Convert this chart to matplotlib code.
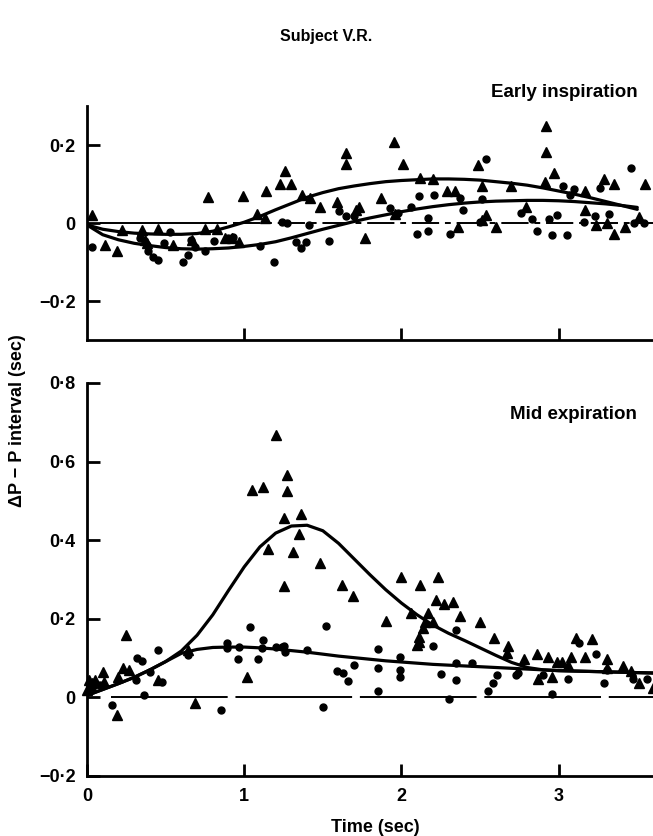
import numpy as np
import matplotlib
matplotlib.use("Agg")
import matplotlib.pyplot as plt

plt.rcParams["font.family"] = ["Liberation Sans", "DejaVu Sans"]
plt.rcParams["font.weight"] = "bold"

# ---- early inspiration: scatter (sec, sec) ----
early_tri_t = [0.03, 0.115, 0.19, 0.22, 0.35, 0.37, 0.38, 0.45, 0.55, 0.67, 0.75, 0.77, 0.83,
               0.88, 0.92, 0.97, 0.99, 1.08, 1.13, 1.14, 1.23, 1.26, 1.30, 1.37, 1.42, 1.48,
               1.59, 1.65, 1.65, 1.71, 1.73, 1.77, 1.87, 1.95, 1.96, 2.01, 2.12, 2.20, 2.29,
               2.34, 2.36, 2.49, 2.51, 2.54, 2.51, 2.60, 2.70, 2.79, 2.92, 2.92, 2.97, 2.91,
               3.17, 3.17, 3.29, 3.35, 3.24, 3.31, 3.35, 3.42, 3.51, 3.55]
early_tri_v = [0.02, -0.056, -0.071, -0.018, -0.018, -0.043, -0.05, -0.015, -0.056, -0.043,
               -0.015, 0.066, -0.015, -0.038, -0.038, -0.048, 0.068, 0.023, 0.013, 0.083,
               0.10, 0.134, 0.10, 0.073, 0.063, 0.041, 0.053, 0.18, 0.152, 0.033, 0.041,
               -0.038, 0.063, 0.208, 0.023, 0.152, 0.116, 0.114, 0.083, 0.081, -0.01, 0.15,
               0.094, 0.02, 0.008, -0.01, 0.094, 0.041, 0.248, 0.182, 0.127, 0.104, 0.083,
               0.033, 0.114, 0.10, -0.005, 0.0, -0.028, -0.01, 0.015, 0.10]

early_dot_t = [0.03, 0.34, 0.38, 0.39, 0.42, 0.45, 0.49, 0.53, 0.61, 0.64, 0.66, 0.69, 0.75,
               0.81, 0.90, 0.93, 1.10, 1.19, 1.24, 1.27, 1.33, 1.36, 1.39, 1.41, 1.54, 1.60,
               1.65, 1.70, 1.93, 1.98, 2.06, 2.10, 2.11, 2.17, 2.17, 2.21, 2.31, 2.37, 2.39,
               2.50, 2.51, 2.54, 2.76, 2.83, 2.86, 2.94, 2.96, 2.99, 3.03, 3.05, 3.07, 3.10,
               3.16, 3.23, 3.26, 3.32, 3.46, 3.48, 3.54]
early_dot_v = [-0.061, -0.038, -0.056, -0.073, -0.086, -0.094, -0.051, -0.023, -0.101, -0.081,
               -0.043, -0.061, -0.073, -0.046, -0.038, -0.035, -0.058, -0.101, 0.003, 0.0,
               -0.048, -0.063, -0.048, -0.005, -0.046, 0.03, 0.018, 0.018, 0.038, 0.025,
               0.041, -0.028, 0.068, 0.013, -0.02, 0.073, -0.028, 0.063, 0.033, 0.003, 0.061,
               0.165, 0.025, 0.01, -0.02, 0.01, -0.03, 0.02, 0.094, -0.03, 0.071, 0.086,
               0.003, 0.018, 0.091, 0.023, 0.142, 0.0, 0.0]

# ---- mid expiration: scatter ----
mid_tri_t = [0.0, 0.01, 0.03, 0.05, 0.10, 0.11, 0.19, 0.20, 0.23, 0.25, 0.27, 0.45, 0.64, 0.69,
             1.02, 1.05, 1.12, 1.15, 1.20, 1.25, 1.25, 1.27, 1.27, 1.31, 1.35, 1.36, 1.48,
             1.62, 1.69, 1.90, 2.00, 2.06, 2.10, 2.11, 2.11, 2.12, 2.14, 2.15, 2.17, 2.20,
             2.22, 2.23, 2.27, 2.33, 2.37, 2.50, 2.59, 2.68, 2.67, 2.78, 2.86, 2.87, 2.93,
             2.96, 2.99, 3.02, 3.06, 3.08, 3.11, 3.17, 3.21, 3.31, 3.31, 3.41, 3.46, 3.51, 3.60]
mid_tri_v = [0.018, 0.043, 0.036, 0.043, 0.064, 0.038, -0.046, 0.051, 0.074, 0.158, 0.069,
             0.043, 0.12, -0.015, 0.051, 0.527, 0.535, 0.377, 0.667, 0.457, 0.284, 0.565,
             0.526, 0.369, 0.415, 0.467, 0.341, 0.285, 0.257, 0.194, 0.306, 0.214, 0.132,
             0.14, 0.153, 0.285, 0.176, 0.191, 0.214, 0.191, 0.247, 0.306, 0.237, 0.242,
             0.206, 0.191, 0.15, 0.13, 0.112, 0.097, 0.11, 0.048, 0.102, 0.053, 0.089, 0.089,
             0.082, 0.102, 0.15, 0.104, 0.148, 0.097, 0.076, 0.079, 0.066, 0.036, 0.023]

mid_dot_t = [0.03, 0.08, 0.16, 0.31, 0.32, 0.35, 0.36, 0.40, 0.45, 0.48, 0.64, 0.85, 0.89, 0.89,
             0.96, 0.97, 1.04, 1.09, 1.11, 1.12, 1.20, 1.24, 1.25, 1.26, 1.40, 1.50, 1.52,
             1.59, 1.63, 1.66, 1.70, 1.85, 1.85, 1.85, 1.99, 1.99, 1.99, 2.20, 2.25, 2.30,
             2.35, 2.35, 2.35, 2.45, 2.55, 2.58, 2.61, 2.73, 2.74, 2.90, 2.96, 3.06, 3.13,
             3.24, 3.29, 3.31, 3.47, 3.56]
mid_dot_v = [0.023, 0.031, -0.02, 0.043, 0.099, 0.092, 0.005, 0.064, 0.12, 0.038, 0.107,
             -0.031, 0.138, 0.125, 0.097, 0.127, 0.178, 0.097, 0.125, 0.145, 0.127, 0.127,
             0.13, 0.115, 0.12, -0.025, 0.181, 0.066, 0.061, 0.041, 0.082, 0.122, 0.076,
             0.015, 0.102, 0.069, 0.053, 0.13, 0.059, -0.005, 0.171, 0.087, 0.043, 0.087,
             0.015, 0.036, 0.056, 0.056, 0.061, 0.056, 0.008, 0.048, 0.138, 0.11, 0.036,
             0.069, 0.048, 0.048]

# ---- fitted curves ----
curve_t = [0.0, 0.1, 0.2, 0.3, 0.4, 0.5, 0.6, 0.7, 0.8, 0.9, 1.0, 1.1, 1.2, 1.3, 1.4, 1.5,
           1.6, 1.7, 1.8, 1.9, 2.0, 2.1, 2.2, 2.3, 2.4, 2.5, 2.6, 2.7, 2.8, 2.9, 3.0, 3.1,
           3.2, 3.3, 3.4, 3.5, 3.6]

early_fit_tri = [-0.005, -0.016, -0.022, -0.026, -0.028, -0.029, -0.029, -0.027, -0.021,
                 -0.010, 0.002, 0.017, 0.034, 0.050, 0.066, 0.078, 0.088, 0.095, 0.101,
                 0.106, 0.109, 0.111, 0.113, 0.113, 0.112, 0.110, 0.106, 0.102, 0.097,
                 0.090, 0.082, 0.074, 0.065, 0.055, 0.045, 0.035]
early_fit_dot = [-0.005, -0.030, -0.043, -0.052, -0.058, -0.063, -0.066, -0.067, -0.066,
                 -0.064, -0.060, -0.055, -0.048, -0.038, -0.027, -0.016, -0.006, 0.004,
                 0.013, 0.021, 0.029, 0.036, 0.042, 0.047, 0.051, 0.054, 0.056, 0.057,
                 0.058, 0.058, 0.057, 0.055, 0.052, 0.049, 0.045, 0.040]

mid_fit_tri = [0.005, 0.020, 0.035, 0.051, 0.070, 0.091, 0.118, 0.158, 0.210, 0.272, 0.332,
               0.383, 0.418, 0.436, 0.438, 0.424, 0.392, 0.352, 0.312, 0.274, 0.240, 0.210,
               0.184, 0.163, 0.145, 0.126, 0.107, 0.089, 0.076, 0.070, 0.068, 0.067, 0.066,
               0.065, 0.064, 0.063, 0.062]
mid_fit_dot = [0.005, 0.020, 0.035, 0.051, 0.070, 0.091, 0.112, 0.122, 0.127, 0.128, 0.128,
               0.126, 0.123, 0.119, 0.115, 0.110, 0.105, 0.101, 0.097, 0.093, 0.090, 0.087,
               0.084, 0.082, 0.080, 0.078, 0.076, 0.074, 0.072, 0.070, 0.068, 0.067, 0.066,
               0.065, 0.064, 0.063, 0.062]

early_ticks = [-0.2, 0.0, 0.2]
mid_ticks = [-0.2, 0.0, 0.2, 0.4, 0.6, 0.8]


def fmt(v):
    if abs(v) < 1e-9:
        return "0"
    s = "%.1f" % abs(v)
    s = s.replace(".", "\u00b7")
    return ("\u2212" if v < 0 else "") + s


def style(ax, yticks, show_x):
    for side in ["top", "right"]:
        ax.spines[side].set_visible(False)
    for side in ["left", "bottom"]:
        ax.spines[side].set_linewidth(2.0)
    ax.set_xlim(0, 3.6)
    ax.set_yticks(yticks)
    ax.set_yticklabels([fmt(v) for v in yticks])
    if show_x:
        ax.set_xticks([0, 1, 2, 3])
        ax.set_xticklabels(["0", "1", "2", "3"])
    else:
        ax.set_xticks([1, 2, 3])
        ax.set_xticklabels([])
    ax.tick_params(axis="both", direction="in", length=9, width=2.0, labelsize=13)
    ax.tick_params(axis="y", pad=8)
    ax.tick_params(axis="x", pad=9)


fig = plt.figure(figsize=(6.53, 8.36), dpi=100)

ax1 = fig.add_axes([0.1332, 0.5933, 0.8668, 0.2799])
ax1.set_ylim(-0.3, 0.3)
ax1.hlines(0, 0.08, 0.89, color="black", lw=1.4)
ax1.hlines(0, 0.93, 3.6, color="black", lw=1.4, linestyles=(0, (14, 3, 3, 3)))
ax1.plot(curve_t[:36], early_fit_tri, color="black", lw=2.3, solid_capstyle="round")
ax1.plot(curve_t[:36], early_fit_dot, color="black", lw=2.3, solid_capstyle="round")
ax1.plot(early_tri_t, early_tri_v, "^", color="black", ms=7, clip_on=False)
ax1.plot(early_dot_t, early_dot_v, "o", color="black", ms=5, clip_on=False)
style(ax1, early_ticks, False)
ax1.text(3.5, 0.335, "Early inspiration", ha="right", va="center", fontsize=13.5)

ax2 = fig.add_axes([0.1332, 0.0718, 0.8668, 0.4701])
ax2.set_ylim(-0.2, 0.8)
ax2.hlines(0, 0.15, 3.6, color="black", lw=1.4, linestyles=(0, (60, 4)))
ax2.plot(curve_t, mid_fit_tri, color="black", lw=2.3, solid_capstyle="round")
ax2.plot(curve_t, mid_fit_dot, color="black", lw=2.3, solid_capstyle="round")
ax2.plot(mid_tri_t, mid_tri_v, "^", color="black", ms=7, clip_on=False)
ax2.plot(mid_dot_t, mid_dot_v, "o", color="black", ms=5, clip_on=False)
style(ax2, mid_ticks, True)
ax2.text(3.5, 0.72, "Mid expiration", ha="right", va="center", fontsize=13.5)

fig.text(0.5, 1 - 37 / 836, "Subject V.R.", ha="center", va="center", fontsize=11.5)
fig.text(375 / 653, 1 - 827 / 836, "Time (sec)", ha="center", va="center", fontsize=13)
fig.text(18 / 653, 1 - 421 / 836, "\u0394P \u2212 P interval (sec)", ha="center",
         va="center", rotation=90, fontsize=13)

fig.savefig("out.png", dpi=100)
